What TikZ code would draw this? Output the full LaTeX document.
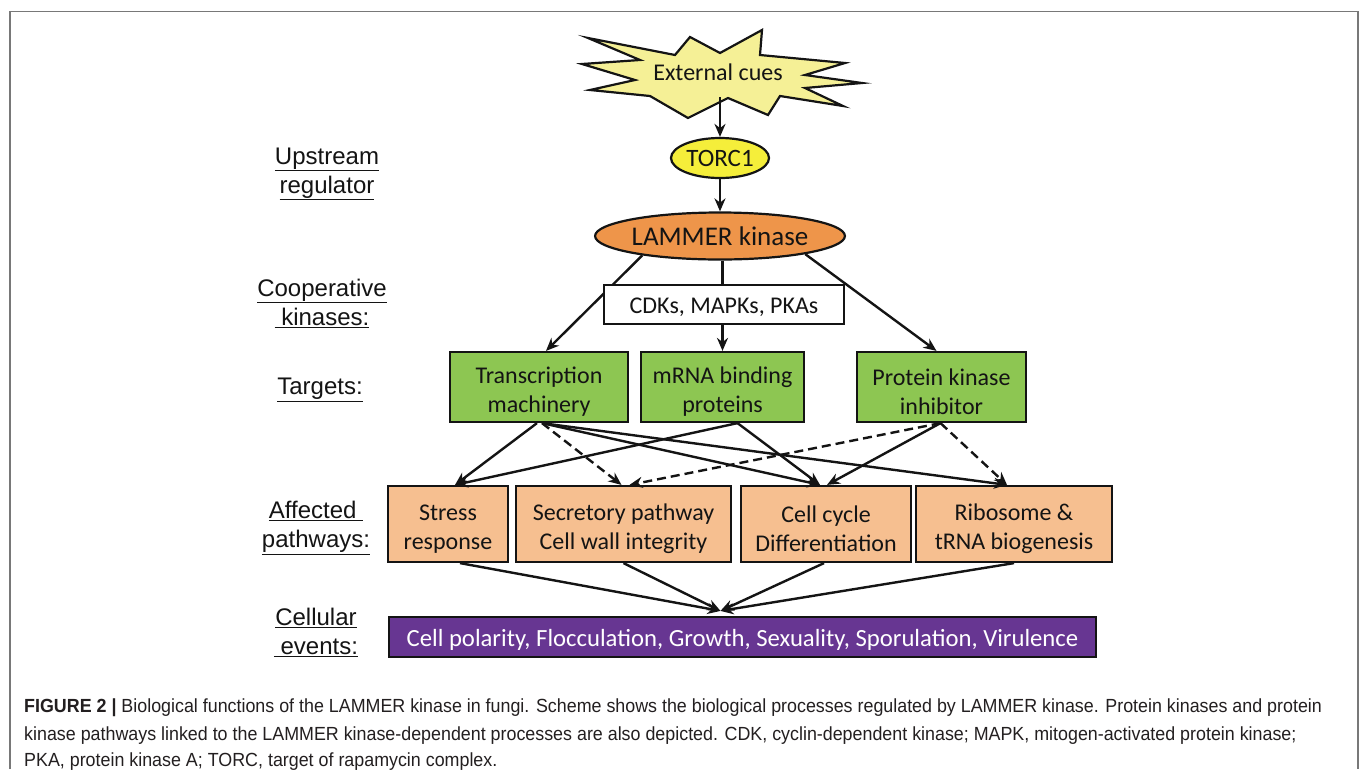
\documentclass[tikz,border=0pt]{standalone}
\usepackage{fontspec}
\setmainfont{Carlito}
\newfontfamily\arialf{Liberation Sans}
\newfontfamily\capf[FakeStretch=0.94]{Liberation Sans}
\usetikzlibrary{arrows.meta,calc,shapes.geometric}
\definecolor{starfill}{RGB}{245,240,150}
\definecolor{torcfill}{RGB}{245,238,58}
\definecolor{lamfill}{RGB}{238,149,74}
\definecolor{tgtfill}{RGB}{141,198,82}
\definecolor{pathfill}{RGB}{246,191,144}
\definecolor{evfill}{RGB}{103,54,146}
\definecolor{framegray}{RGB}{120,120,120}
\definecolor{captext}{RGB}{35,31,32}
\definecolor{ink}{RGB}{20,20,20}
\newcommand\tupstrut{\rule{0pt}{26pt}}
\newcommand\supstrut{\rule{0pt}{22pt}}
\begin{document}
\begin{tikzpicture}[x=1pt,y=-1pt,
  ar/.style={draw=ink,line width=2.4pt,-{Stealth[length=13pt,width=11pt]}},
  dar/.style={ar,dash pattern=on 9pt off 5pt},
  plain/.style={draw=ink,line width=2.4pt},
  lbl/.style={font=\arialf\fontsize{24}{29}\selectfont,align=center,text=ink},
  tbox/.style={draw=ink,line width=2.2pt,inner sep=0pt,align=center,text=ink,font=\fontsize{24}{29}\selectfont},
  caption/.style={anchor=base west,inner sep=0pt,text=captext,font=\capf\fontsize{19}{22}\selectfont}]
\useasboundingbox (0,0) rectangle (1360,769);
\fill[white] (0,0) rectangle (1360,769);
% frame
\draw[framegray,line width=1.8pt] (10,769) -- (10,11.5) -- (1358,11.5) -- (1358,769);

% star
\draw[ink,fill=starfill,line width=2.2pt,line join=miter]
 (588,38) -- (675,55) -- (690,37) -- (720,53) -- (762,30) -- (760,55) -- (845,63) -- (805,75)
 -- (862,83) -- (805,88) -- (843,106) -- (780,96) -- (768,115) -- (728,98) -- (688,118)
 -- (650,96) -- (590,90) -- (635,80) -- (582,64) -- (640,60) -- cycle;
\node[text=ink,font=\fontsize{24}{29}\selectfont] (ext) at (718,72) {External cues};
\coordinate (starbot) at (720,97);

% upstream
\node[tbox,ellipse,fill=torcfill,minimum width=98pt,minimum height=40pt,font=\fontsize{25}{29}\selectfont] (torc) at (720,158) {TORC1};
\node[tbox,ellipse,fill=lamfill,minimum width=236pt,minimum height=47pt,font=\fontsize{27}{30}\selectfont] (lam) at (720,236) {LAMMER kinase};

% targets
\node[tbox,fill=tgtfill,minimum width=178pt,minimum height=70pt] (tm) at (539,387) {\tupstrut Transcription\\machinery};
\node[tbox,fill=tgtfill,minimum width=163pt,minimum height=70pt] (mrna) at (722.5,387) {\tupstrut mRNA binding\\proteins};
\node[tbox,fill=tgtfill,minimum width=169pt,minimum height=70pt] (pki) at (941.5,387) {\tupstrut Protein kinase\\inhibitor};

% pathways
\node[tbox,fill=pathfill,minimum width=120pt,minimum height=76pt] (sr) at (448,524) {\tupstrut Stress\\response};
\node[tbox,fill=pathfill,minimum width=215pt,minimum height=76pt] (sec) at (623.5,524) {\tupstrut Secretory pathway\\Cell wall integrity};
\node[tbox,fill=pathfill,minimum width=170pt,minimum height=76pt] (cc) at (826,524) {\tupstrut Cell cycle\\Differentiation};
\node[tbox,fill=pathfill,minimum width=196pt,minimum height=76pt] (rb) at (1014,524) {\tupstrut Ribosome \&\\tRNA biogenesis};

% events
\node[tbox,fill=evfill,text=white,minimum width=707pt,minimum height=40pt,font=\fontsize{24.7}{29}\selectfont] (ev) at (742.5,637) {\supstrut Cell polarity, Flocculation, Growth, Sexuality, Sporulation, Virulence};

% arrows top
\draw[ar] (starbot) -- (torc.north);
\draw[ar] (torc.south) -- (lam.north);
\draw[ar] (lam.194) -- ([xshift=7pt]tm.north);
\draw[ar] (lam.-12) -- ([xshift=-5pt]pki.north);
\draw[plain] (lam.south -| mrna.north) -- ++(0,30);

% cooperative kinases box
\node[tbox,fill=white,minimum width=240pt,minimum height=39pt] (cdk) at (724,304.5) {\supstrut CDKs, MAPKs, PKAs};
\draw[ar] (cdk.south -| mrna.north) -- (mrna.north);

% targets -> pathways
\coordinate (srIn) at ([xshift=7pt]sr.north);
\coordinate (secInA) at ([xshift=-2pt]sec.north);
\coordinate (secInB) at ([xshift=6pt]sec.north);
\coordinate (ccInA) at ([xshift=-6pt]cc.north);
\coordinate (ccInB) at ([xshift=1pt]cc.north);
\coordinate (rbIn) at ([xshift=-7pt]rb.north);
\coordinate (tmOut) at ([xshift=-2pt]tm.south);
\coordinate (tmOutB) at ([xshift=3pt]tm.south);
\coordinate (mrnaOut) at ([xshift=15pt]mrna.south);
\coordinate (pkiOut) at ([xshift=-1pt]pki.south);

\draw[ar] (tmOut) -- (srIn);
\draw[dar] (tmOutB) -- (secInA);
\draw[ar] (tmOutB) -- (ccInA);
\draw[ar] (tmOutB) -- (rbIn);
\draw[ar] (mrnaOut) -- (srIn);
\draw[ar] (mrnaOut) -- (ccInA);
\draw[dar] (pkiOut) -- (secInB);
\draw[ar] (pkiOut) -- (ccInB);
\draw[dar] (pkiOut) -- (rbIn);

% pathways -> events
\coordinate (conv) at ([xshift=-22pt,yshift=5pt]ev.north);
\draw[ar] ([xshift=12pt]sr.south) -- (conv);
\draw[ar] (sec.south) -- (conv);
\draw[ar] ([xshift=-2pt]cc.south) -- (conv);
\draw[ar] (rb.south) -- (conv);

% left labels
\node[lbl] (l1) at (327,174) {\underline{Upstream}\\\underline{regulator}};
\node[lbl] (l2) at (322,303) {\underline{Cooperative}\\\underline{\ kinases:}};
\node[lbl] (l3) at (320,390) {\underline{Targets:}};
\node[lbl] (l4) at (316,528) {\underline{Affected\ }\\\underline{pathways:}};
\node[lbl] (l5) at (316,632) {\underline{Cellular}\\\underline{\ events:}};

% caption
\node[caption] (c1) at (24,712) {{\bfseries FIGURE 2 |} Biological functions of the LAMMER kinase in fungi. Scheme shows the biological processes regulated by LAMMER kinase. Protein kinases and protein};
\node[caption] (c2) at (24,740) {kinase pathways linked to the LAMMER kinase-dependent processes are also depicted. CDK, cyclin-dependent kinase; MAPK, mitogen-activated protein kinase;};
\node[caption] (c3) at (24,766) {PKA, protein kinase A; TORC, target of rapamycin complex.};
\end{tikzpicture}
\end{document}
